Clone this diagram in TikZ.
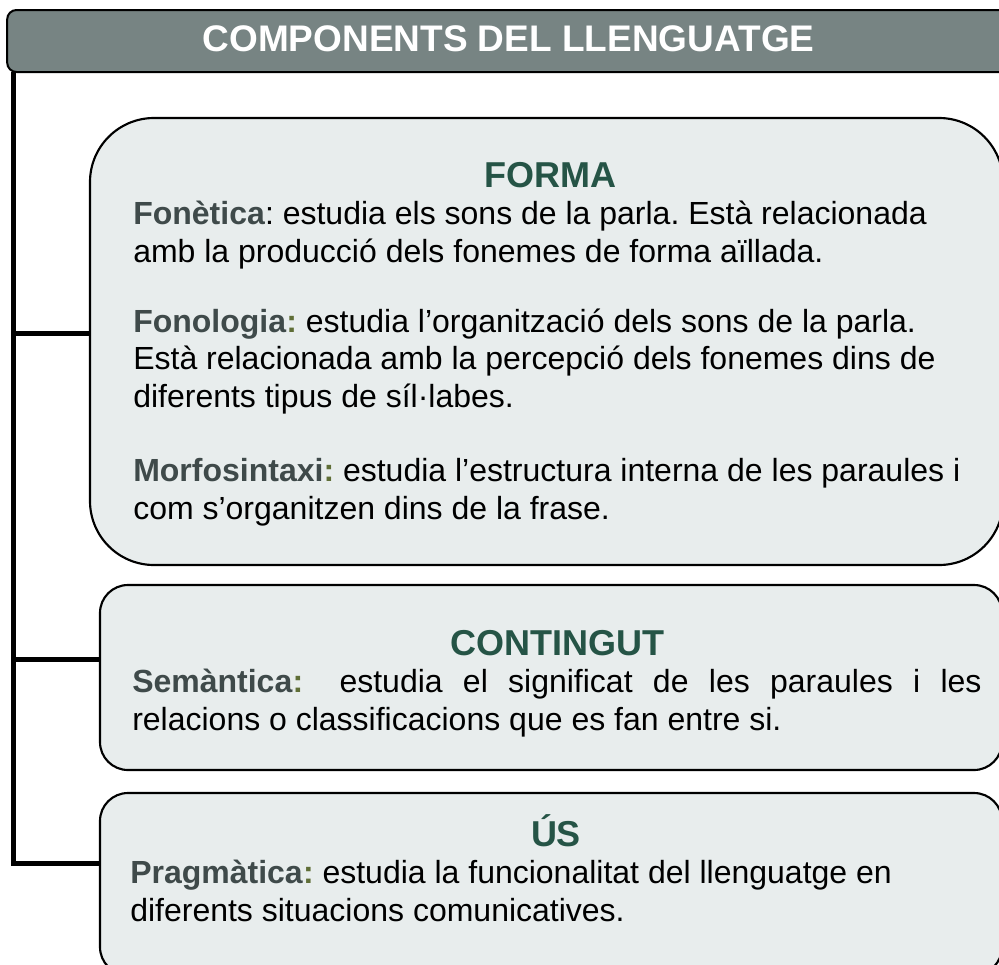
\documentclass[tikz,border=0pt]{standalone}
\usepackage{fontspec}
\setmainfont{Liberation Sans}
\usepackage{xcolor}
\frenchspacing

\definecolor{capgris}{RGB}{119,132,131}
\definecolor{caixafons}{RGB}{232,237,237}
\definecolor{titolverd}{RGB}{37,84,70}
\definecolor{etiqgris}{RGB}{63,74,74}
\definecolor{oliva}{RGB}{95,110,55}

\newcommand{\etiq}[1]{\textcolor{etiqgris}{\textbf{#1}}}
\newcommand{\dospunts}{\textcolor{oliva}{\textbf{:}}}

\tikzset{
  caixa/.style={draw, line width=1.6pt, fill=caixafons, outer sep=0pt},
  titol/.style={anchor=base, text=titolverd, font=\fontsize{27}{30}\selectfont\bfseries},
  cos/.style={anchor=base west, align=left, inner sep=0pt, font=\fontsize{24}{28}\selectfont},
  rama/.style={line width=3.75pt}
}

\begin{document}
\begin{tikzpicture}[x=0.75pt,y=-0.75pt]
    \useasboundingbox (0,0) rectangle (999,964);
    \clip (0,0) rectangle (999,964);

    % capcalera
    \node[draw, line width=1.5pt, fill=capgris, rounded corners=7pt, outer sep=0pt,
          minimum width=752pt, minimum height=46.5pt] (cap) at (508.5,41) {};
    \node[anchor=base, text=white, font=\fontsize{27.75}{30}\selectfont\bfseries] (captitol) at (508.5,51) {COMPONENTS DEL LLENGUATGE};

    % caixes
    \node[caixa, rounded corners=48pt, minimum width=684.75pt, minimum height=335.25pt] (forma) at (546.5,341.5) {};
    \node[caixa, rounded corners=21pt, minimum width=676.5pt, minimum height=138.75pt] (contingut) at (551,677.5) {};
    \node[caixa, rounded corners=21pt, minimum width=676.5pt, minimum height=136.5pt] (us) at (551,884) {};

    % branques
    \coordinate (tronc) at (13,72);
    \coordinate (b1) at (0,333);
    \coordinate (b2) at (0,659);
    \coordinate (b3) at (0,863);
    \draw[rama] (tronc) |- (us.west |- b3);
    \draw[rama] (tronc |- b2) -- (contingut.west |- b2);
    \draw[rama] (tronc |- b1) -- (forma.west |- b1);

    % FORMA (base = darrera linia)
    \node[titol] (tforma) at (550.5,187) {FORMA};
    \node[cos] (fonetica) at (133,262) {\etiq{Fonètica}: estudia els sons de la parla. Està relacionada\\amb la producció dels fonemes de forma aïllada.};
    \node[cos] (fonologia) at (133,407) {\etiq{Fonologia}\dospunts{} estudia l’organització dels sons de la parla.\\Està relacionada amb la percepció dels fonemes dins de\\diferents tipus de síl·labes.};
    \node[cos] (morfo) at (133,519) {\etiq{Morfosintaxi}\dospunts{} estudia l’estructura interna de les paraules i\\com s’organitzen dins de la frase.};

    % CONTINGUT
    \node[titol] (tcontingut) at (557,655) {CONTINGUT};
    \node[cos] (semantica) at (132,730) {\makebox[637pt][s]{\etiq{Semàntica}\dospunts{}\enspace{} estudia el significat de les paraules i les}\\relacions o classificacions que es fan entre si.};

    % US
    \node[titol] (tus) at (556,846) {ÚS};
    \node[cos] (pragmatica) at (130,921) {\etiq{Pragmàtica}\dospunts{} estudia la funcionalitat del llenguatge en\\diferents situacions comunicatives.};
\end{tikzpicture}
\end{document}
